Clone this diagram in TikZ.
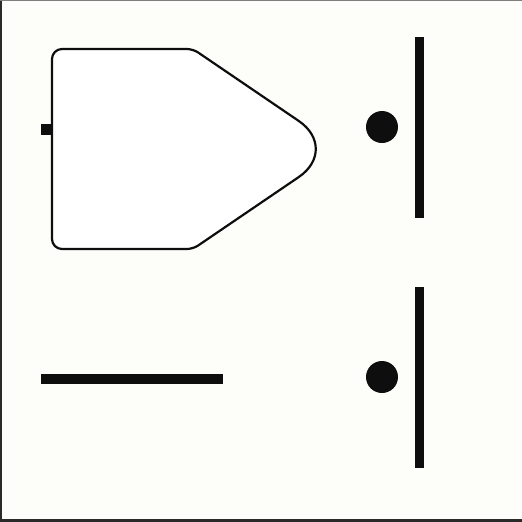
\documentclass[tikz,border=0pt]{standalone}
\usetikzlibrary{positioning}
\definecolor{tagpaper}{HTML}{FDFDFA}
\definecolor{tagink}{HTML}{0E0E0E}
\definecolor{tagedge}{HTML}{2A2A2A}
\tikzset{
  tagbody/.style={draw=tagink, line width=1.25pt, fill=white, line join=round},
  platebar/.style={fill=tagink, draw=none},
  pindot/.style={circle, fill=tagink, inner sep=0pt, minimum size=0.64cm},
}

\begin{document}
\begin{tikzpicture}[x=0.02cm, y=-0.02cm]
    \useasboundingbox (0,0) rectangle (522,522);
    \fill[tagpaper] (0,0) rectangle (522,522);
    % frame edges
    \fill[tagedge] (0,0) rectangle (2.5,522);
    \fill[tagedge!60] (0,0) rectangle (522,1.2);
    \fill[tagedge] (0,519) rectangle (522,522);
    % tag outline with its stub
    \fill[platebar] (41,124) rectangle (52,135);
    \draw[tagbody] (52,149) [rounded corners=0.2cm] -- (52,49)
      [rounded corners=0.12cm] -- (193,49)
      [rounded corners=1.0cm] -- (340,149)
      [rounded corners=0.12cm] -- (193,249)
      [rounded corners=0.2cm] -- (52,249) -- cycle;
    % upper pair
    \node[pindot] (dotA) at (382,127) {};
    \fill[platebar] (415,37) rectangle (424.5,218);
    % lower pair
    \node[pindot] (dotB) at (382,377) {};
    \fill[platebar] (415,287) rectangle (424.5,468);
    \fill[platebar] (41,374) rectangle (223,384);
\end{tikzpicture}
\end{document}
